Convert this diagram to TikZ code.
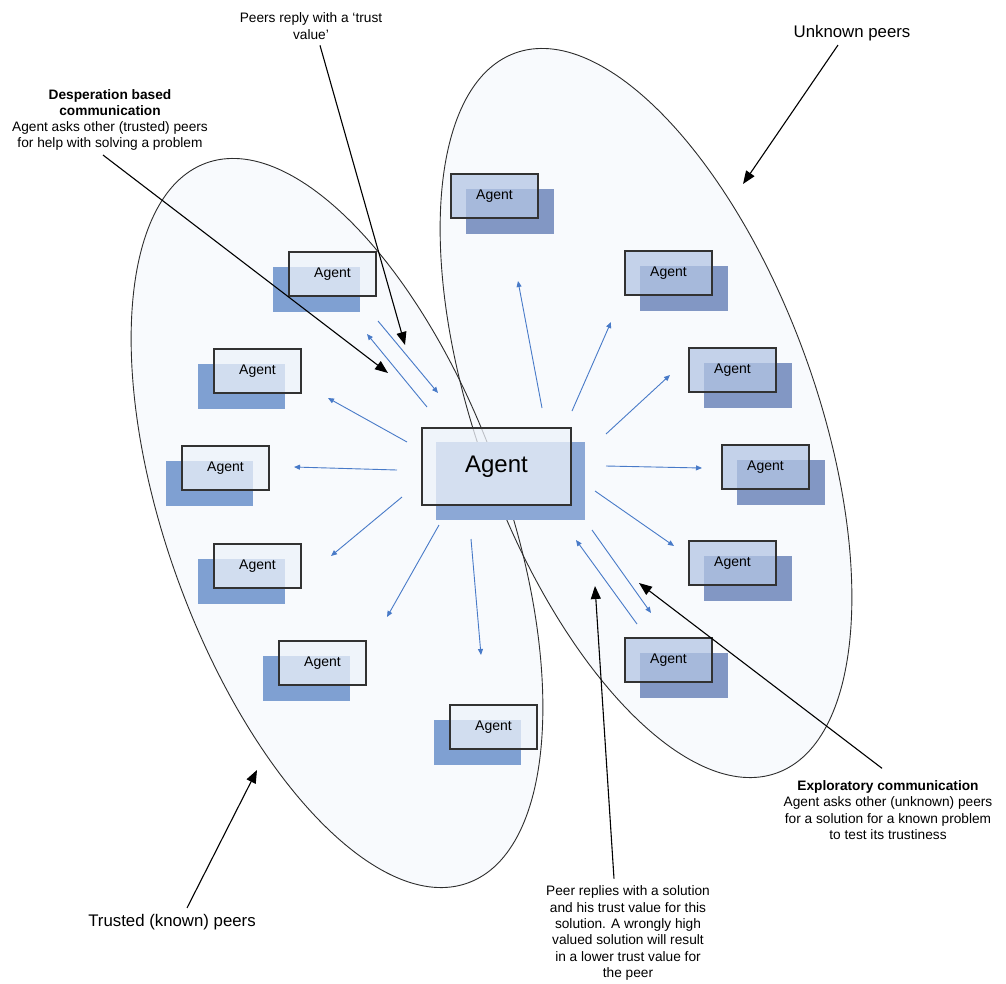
\documentclass[tikz,border=0pt]{standalone}
\usepackage{fontspec}
\setmainfont{Liberation Sans}
\usetikzlibrary{arrows.meta}

\definecolor{groupfill}{RGB}{248,250,253}
\definecolor{groupline}{RGB}{45,45,45}
\definecolor{boxline}{RGB}{50,50,50}
\definecolor{shadowL}{RGB}{127,160,210}
\definecolor{frontL}{RGB}{237,242,250}
\definecolor{shadowR}{RGB}{130,151,196}
\definecolor{frontR}{RGB}{179,197,228}
\definecolor{shadowC}{RGB}{140,168,214}
\definecolor{linkblue}{RGB}{72,122,200}

\tikzset{
  group/.style={draw=groupline, line width=0.9pt},
  agentbox/.style={draw=boxline, line width=1.3pt, inner sep=0pt,
    fill opacity=0.75, text opacity=1, text=black},
  agentL/.style={agentbox, fill=frontL, minimum width=87pt, minimum height=44pt,
    font=\fontsize{14}{14}\selectfont},
  agentR/.style={agentbox, fill=frontR, minimum width=87pt, minimum height=44pt,
    font=\fontsize{14}{14}\selectfont},
  agentC/.style={agentbox, fill=frontL, minimum width=149pt, minimum height=77pt,
    font=\fontsize{24}{24}\selectfont},
  link/.style={draw=linkblue, line width=0.9pt, -{Triangle[length=6pt,width=5pt]}},
  note/.style={draw=black, line width=1.1pt, -{Triangle[length=13pt,width=10pt]}},
  notetext/.style={align=center, inner sep=0pt, font=\fontsize{13.7}{16.3}\selectfont},
  bigtext/.style={inner sep=0pt, font=\fontsize{16.8}{18}\selectfont},
}

% peer in the trusted group: shadow down-left of the box
\newcommand{\peerTrusted}[3]{%
  \fill[shadowL] (#2-16,#3+15) rectangle ++(87,45);
  \node[agentL] (#1) at (#2+43.5,#3+22) {Agent};}
% peer in the unknown group: shadow down-right of the box
\newcommand{\peerUnknown}[3]{%
  \fill[shadowR] (#2+15,#3+15) rectangle ++(88,45);
  \node[agentR] (#1) at (#2+43.5,#3+22) {Agent};}

\begin{document}
\begin{tikzpicture}[x=1pt,y=-1pt]
\useasboundingbox (0,0) rectangle (1006,983);
\fill[white] (0,0) rectangle (1006,983);

% the two peer groups
\fill[groupfill, rotate around={-70:(337,523)}] (337,523) ellipse [x radius=383pt, y radius=169pt];
\fill[groupfill, rotate around={-70:(646,413)}] (646,413) ellipse [x radius=383pt, y radius=169pt];
\draw[group, rotate around={-70:(337,523)}] (337,523) ellipse [x radius=383pt, y radius=169pt];
\draw[group, rotate around={-70:(646,413)}] (646,413) ellipse [x radius=383pt, y radius=169pt];

% trusted (known) peers
\peerTrusted{tA}{289}{252}
\peerTrusted{tB}{214}{349}
\peerTrusted{tC}{182}{446}
\peerTrusted{tD}{214}{544}
\peerTrusted{tE}{279}{641}
\peerTrusted{tF}{450}{705}

% unknown peers
\peerUnknown{uA}{451}{174}
\peerUnknown{uB}{625}{251}
\peerUnknown{uC}{689}{348}
\peerUnknown{uD}{722}{445}
\peerUnknown{uE}{689}{541}
\peerUnknown{uF}{625}{638}

% the agent itself
\fill[shadowC] (436,442) rectangle (585,520);
\node[agentC] (me) at (496.5,466.5) {Agent};

% message ends
\coordinate (m1s) at (427,407); \coordinate (m1e) at (367,334);
\coordinate (m2s) at (378,321); \coordinate (m2e) at (438,393);
\coordinate (m3s) at (407,442); \coordinate (m3e) at (328,398);
\coordinate (m4s) at (397,470); \coordinate (m4e) at (294,467);
\coordinate (m5s) at (402,497); \coordinate (m5e) at (331,556);
\coordinate (m6s) at (439,525); \coordinate (m6e) at (387,617);
\coordinate (m7s) at (471,539); \coordinate (m7e) at (481,655);
\coordinate (m8s) at (542,408); \coordinate (m8e) at (518,281);
\coordinate (m9s) at (572,411); \coordinate (m9e) at (611,322);
\coordinate (m10s) at (606,434); \coordinate (m10e) at (670,375);
\coordinate (m11s) at (606,466); \coordinate (m11e) at (702,468);
\coordinate (m12s) at (595,491); \coordinate (m12e) at (674,546);
\coordinate (m13s) at (592,530); \coordinate (m13e) at (651,613);
\coordinate (m14s) at (637,624); \coordinate (m14e) at (576,540);
\foreach \i in {1,...,14} { \draw[link] (m\i s) -- (m\i e); }

% annotations
\node[notetext] (tTrust) at (311,26) {Peers reply with a ‘trust\\value’};
\node[notetext] (tDesp) at (110,120) {\textbf{Desperation based}\\\textbf{communication}\\Agent asks other (trusted) peers\\for help with solving a problem};
\node[bigtext] (tUnknown) at (852,33) {Unknown peers};
\node[bigtext] (tTrusted) at (172,922) {Trusted (known) peers};
\node[notetext] (tReply) at (628,933) {Peer replies with a solution\\and his trust value for this\\solution. A wrongly high\\valued solution will result\\in a lower trust value for\\the peer};
\node[notetext] (tExplore) at (888,810) {\textbf{Exploratory communication}\\Agent asks other (unknown) peers\\for a solution for a known problem\\to test its trustiness};

\coordinate (pTrust) at (405,345);
\coordinate (pDesp) at (388,373);
\coordinate (pUnknown) at (743,184);
\coordinate (pTrusted) at (257,770);
\coordinate (pReply) at (595,586);
\coordinate (pExplore) at (639,583);

\draw[note] ([xshift=9pt,yshift=-6pt]tTrust.south) -- (pTrust);
\draw[note] ([xshift=-7pt,yshift=-4pt]tDesp.south) -- (pDesp);
\draw[note] ([xshift=-14pt,yshift=-4pt]tUnknown.south) -- (pUnknown);
\draw[note] ([xshift=15pt,yshift=6pt]tTrusted.north) -- (pTrusted);
\draw[note] ([xshift=-14pt,yshift=7pt]tReply.north) -- (pReply);
\draw[note] ([xshift=-6pt,yshift=12pt]tExplore.north) -- (pExplore);
\end{tikzpicture}
\end{document}
